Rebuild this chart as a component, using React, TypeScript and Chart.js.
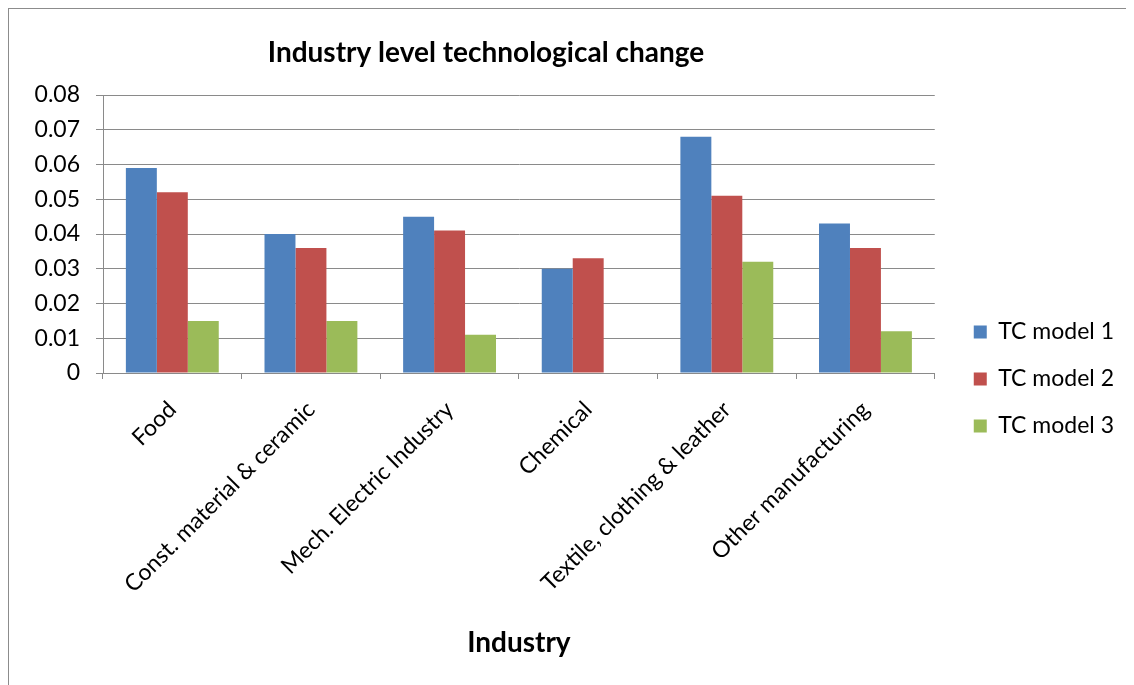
import React, { useEffect, useRef } from "react";
import { Chart, registerables } from "chart.js";

Chart.register(...registerables);

const categories = [
  "Food",
  "Const. material & ceramic",
  "Mech. Electric Industry",
  "Chemical",
  "Textile, clothing & leather",
  "Other manufacturing",
];
const model1 = [0.059, 0.04, 0.045, 0.03, 0.068, 0.043];
const model2 = [0.052, 0.036, 0.041, 0.033, 0.051, 0.036];
const model3 = [0.015, 0.015, 0.011, null, 0.032, 0.012];
const seriesNames = ["TC model 1", "TC model 2", "TC model 3"];
const yTickLabels = ["0", "0.01", "0.02", "0.03", "0.04", "0.05", "0.06", "0.07", "0.08"];
const chartTitle = "Industry level technological change";
const xAxisTitle = "Industry";

const FONT = "Lato";
const GRID = "#8a8a8a";

const titlePlugin = {
  id: "fixedTitle",
  afterDraw(chart: any) {
    const ctx = chart.ctx;
    ctx.save();
    ctx.font = `bold 28px ${FONT}`;
    ctx.fillStyle = "#000";
    ctx.textAlign = "center";
    ctx.textBaseline = "middle";
    ctx.fillText(chartTitle, 477, 44);
    ctx.restore();
  },
};

export default function App() {
  const ref = useRef<HTMLCanvasElement>(null);
  useEffect(() => {
    if (!ref.current) return;
    const chart = new Chart(ref.current, {
      type: "bar",
      data: {
        labels: categories,
        datasets: [
          { label: seriesNames[0], data: model1, backgroundColor: "#4F81BD" },
          { label: seriesNames[1], data: model2, backgroundColor: "#C0504D" },
          { label: seriesNames[2], data: model3, backgroundColor: "#9BBB59" },
        ],
      },
      options: {
        animation: false,
        responsive: false,
        datasets: { bar: { categoryPercentage: 0.67, barPercentage: 1.0 } },
        layout: { padding: { left: 14, top: 86, right: 9, bottom: 26 } },
        plugins: {
          title: { display: false },
          tooltip: { enabled: false },
          legend: {
            position: "right",
            align: "center",
            labels: {
              boxWidth: 13,
              boxHeight: 13,
              padding: 24,
              color: "#000",
              font: { family: FONT, size: 23 },
            },
          },
        },
        scales: {
          x: {
            grid: { drawOnChartArea: false, drawTicks: true, tickLength: 6, color: GRID, offset: true },
            border: { color: GRID, width: 1 },
            ticks: {
              minRotation: 45,
              maxRotation: 45,
              autoSkip: false,
              padding: 17,
              labelOffset: 0,
              color: "#000",
              font: { family: FONT, size: 23 },
            },
            title: {
              display: true,
              text: xAxisTitle,
              color: "#000",
              font: { family: FONT, size: 28, weight: "bold" },
              padding: { top: 10, bottom: 3 },
            },
            afterFit: (s: any) => {
              s.height = 290;
            },
          },
          y: {
            min: 0,
            max: 0.08,
            ticks: {
              stepSize: 0.01,
              padding: 16,
              color: "#000",
              font: { family: FONT, size: 23 },
              callback: (_v: any, i: number) => yTickLabels[i] ?? "",
            },
            grid: { color: GRID, tickLength: 7, lineWidth: 1 },
            border: { color: GRID, width: 1 },
            afterFit: (s: any) => {
              s.width = 80;
            },
          },
          gap: {
            type: "linear",
            position: "right",
            display: true,
            grid: { display: false, drawTicks: false },
            border: { display: false },
            ticks: { display: false },
            afterFit: (s: any) => {
              s.width = 15;
            },
          },
        },
      },
      plugins: [titlePlugin],
    } as any);
    return () => chart.destroy();
  }, []);
  return (
    <div style={{ border: "1px solid #8c8c8c", width: 1124, height: 680, position: "relative" }}>
      <canvas ref={ref} width={1124} height={680} style={{ display: "block" }} />
    </div>
  );
}
